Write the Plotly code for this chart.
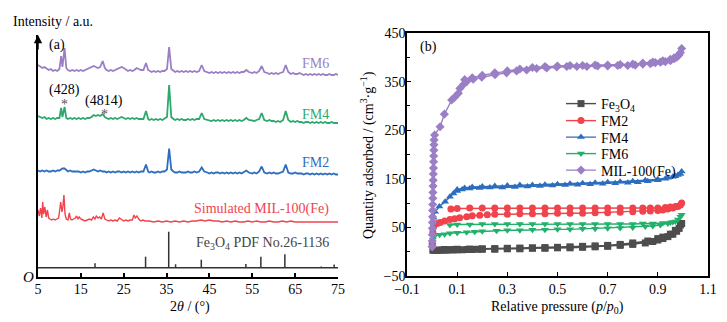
import plotly.graph_objects as go

# ---------------- (a) XRD data ----------------
two_theta = [
    5, 5.5, 6, 6.5, 7, 7.5, 8, 8.5, 9, 9.5,
    10, 10.4, 10.7, 11.2, 11.6, 12, 12.5, 13, 13.5, 14,
    14.5, 15, 15.5, 16, 16.5, 17, 17.5, 18, 18.5, 19,
    19.5, 20.1, 20.6, 21, 21.5, 22, 22.5, 23, 23.5, 24,
    24.5, 25, 25.5, 26, 26.5, 27, 27.5, 28, 28.5, 29,
    29.6, 30.2, 30.7, 31, 31.5, 32, 32.5, 33, 33.5, 34,
    34.5, 35.1, 35.6, 36.1, 36.6, 37, 37.5, 38, 38.5, 39,
    39.5, 40, 40.5, 41, 41.5, 42, 42.6, 43.2, 43.8, 44.5,
    45, 45.5, 46, 46.5, 47, 47.5, 48, 48.5, 49, 49.5,
    50, 50.5, 51, 51.5, 52, 52.5, 53, 53.6, 54.2, 55,
    55.5, 56, 56.6, 57.2, 57.8, 58.5, 59, 59.5, 60, 60.5,
    61, 61.5, 62.2, 62.8, 63.4, 64, 64.5, 65, 65.5, 66,
    66.5, 67, 67.5, 68, 68.5, 69, 69.5, 70, 70.5, 71,
    71.5, 72, 72.5, 73, 73.5, 74, 74.5, 75]

fm6_int = [
    8, 6, 5, 6, 4, 3, 4, 2, 3, 2,
    4, 17, 6, 25, 5, 3, 2, 3, 2, 3,
    2, 3, 2, 3, 4, 5, 6, 7, 6, 5,
    6, 12, 5, 3, 2, 3, 2, 3, 4, 5,
    6, 5, 3, 2, 3, 2, 3, 5, 4, 3,
    3, 10, 3, 2, 1, 2, 1, 2, 1, 2,
    2, 4, 26, 4, 2, 1, 2, 1, 2, 1,
    2, 1, 2, 1, 2, 1, 2, 8, 2, 1,
    0, 1, 0, 1, 0, 1, 0, 1, 0, 1,
    0, 1, 0, 1, 0, 1, 1, 3, 1, 0,
    1, 0, 2, 7, 1, 0, -1, 0, -1, 0,
    -1, 0, 1, 8, 1, -1, 0, -1, -1, 0,
    -1, -2, -1, -2, -1, -2, -1, -2, -1, -2,
    -1, -2, -2, -1, -2, -2, -1, -2]

fm4_int = [
    5, 4, 3, 4, 2, 3, 2, 3, 2, 3,
    3, 13, 4, 14, 3, 2, 3, 2, 3, 2,
    3, 2, 3, 2, 3, 3, 4, 6, 5, 6,
    5, 7, 4, 3, 2, 3, 2, 3, 2, 3,
    4, 3, 2, 3, 2, 3, 2, 3, 2, 2,
    2, 10, 2, 1, 2, 1, 2, 1, 2, 1,
    2, 4, 36, 4, 2, 1, 2, 1, 2, 1,
    1, 2, 1, 2, 1, 2, 2, 8, 2, 1,
    1, 0, 1, 0, 1, 0, 1, 0, 1, 0,
    1, 0, 1, 0, 1, 0, 1, 3, 1, 0,
    0, 1, 2, 8, 1, 0, 1, 0, 0, -1,
    0, -1, 1, 10, 1, -1, 0, -1, 0, -1,
    -1, -2, -1, -1, -2, -1, -2, -1, -2, -1,
    -2, -1, -2, -2, -1, -2, -2, -2]

fm2_int = [
    3, 2, 3, 2, 3, 2, 2, 3, 2, 3,
    3, 4, 5, 5, 3, 2, 3, 2, 2, 2,
    2, 1, 2, 1, 2, 2, 3, 4, 3, 2,
    3, 2, 2, 1, 2, 1, 2, 1, 2, 2,
    1, 2, 1, 2, 1, 2, 1, 2, 1, 2,
    2, 9, 2, 1, 2, 1, 1, 2, 1, 2,
    2, 4, 25, 4, 2, 1, 1, 2, 1, 1,
    1, 2, 1, 1, 2, 1, 2, 6, 2, 1,
    0, 1, 0, 1, 1, 0, 1, 0, 1, 0,
    1, 0, 1, 0, 1, 0, 1, 3, 1, 0,
    1, 0, 2, 7, 1, 0, 1, 0, 1, 0,
    0, 1, 2, 9, 1, 0, 0, 1, 0, 0,
    0, -1, 0, 0, -1, 0, -1, 0, -1, 0,
    -1, 0, -1, 0, -1, 0, -1, -1]

sim_theta = [
    5, 5.3, 5.6, 5.9, 6.1, 6.3, 6.6, 6.9, 7.2, 7.5,
    7.8, 8.2, 8.6, 9, 9.4, 9.8, 10.1, 10.3, 10.6, 10.8,
    11.05, 11.3, 11.6, 12, 12.3, 12.6, 12.9, 13.3, 13.7, 14.0,
    14.3, 14.6, 15, 15.5, 16, 16.5, 17, 17.5, 17.9, 18.3,
    18.6, 19, 19.4, 19.8, 20.2, 20.6, 21, 21.5, 22, 22.5,
    23, 23.5, 24, 24.5, 25, 25.5, 26, 26.5, 27, 27.4,
    27.7, 28.1, 28.5, 29, 29.5, 30, 31, 32, 33, 34,
    35, 36, 37, 38, 39, 40, 41, 42, 43, 44,
    45, 46, 47, 48, 49, 50, 51, 52, 53, 54,
    55, 56, 57, 58, 59, 60, 61, 62, 63, 64,
    65, 75]
sim_int = [
    12, 6, 14, 4, 20, 8, 15, 5, 12, 4,
    3, 2, 3, 2, 3, 4, 13, 20, 10, 15,
    27, 8, 3, 2, 9, 3, 2, 3, 4, 6,
    3, 5, 3, 2, 1, 2, 3, 2, 5, 3,
    6, 4, 5, 3, 9, 3, 2, 1, 2, 1,
    2, 1, 4, 2, 1, 2, 1, 2, 2, 7,
    4, 6, 3, 1, 2, 1, 1, 0, 1, 0,
    1, 0, 1, 0, 1, 0, 1, 1, 2, 1,
    2, 1, 1, 0, 1, 0, 1, 0, 0, 1,
    0, 1, 0, 0, 1, 0, 0, 1, 0, 1,
    0, 0]

pdf_theta = [18.3, 30.1, 35.5, 37.1, 43.1, 53.5, 57.0, 62.6, 71.1, 74.1]
pdf_int = [4.4, 11, 36, 3.4, 8, 3.7, 11, 13.5, 1.2, 3.2]

# vertical stacking offsets of the patterns
off_fm6, off_fm4, off_fm2, off_sim, off_pdf = 204, 156, 103.5, 55, 9.3

# ---------------- (b) N2 isotherms ----------------
fe3o4_p = [0.003, 0.01, 0.02, 0.03, 0.04, 0.05, 0.06, 0.07, 0.08, 0.09, 0.1, 0.12, 0.14, 0.16,
           0.18, 0.2, 0.25, 0.3, 0.35, 0.4, 0.45, 0.5, 0.55, 0.6, 0.65, 0.7, 0.75, 0.8, 0.85,
           0.88, 0.9, 0.92, 0.94, 0.96, 0.975, 0.985, 0.995,
           0.99, 0.97, 0.95, 0.92, 0.9, 0.86, 0.8, 0.75, 0.7, 0.65, 0.6, 0.55, 0.5, 0.45,
           0.4, 0.35, 0.3, 0.25, 0.2, 0.15, 0.1, 0.05]
fe3o4_q = [3, 3, 3, 3, 3.5, 3.5, 3.5, 4, 4, 4, 4, 4, 4.5, 4.5,
           5, 5, 5, 6, 6, 7, 7, 8, 8, 9, 10, 11, 13, 15, 18,
           21, 24, 27, 31, 36, 42, 48, 58,
           55, 44, 36, 30, 27, 22, 18, 15, 13, 12, 11, 10, 9, 8.5,
           8, 7.5, 7, 6.5, 6, 5.5, 5, 4.5]

fm2_p = [0.001, 0.003, 0.006, 0.01, 0.02, 0.032, 0.05, 0.071, 0.09, 0.11, 0.138, 0.16, 0.19,
         0.22, 0.25, 0.3, 0.35, 0.4, 0.45, 0.5, 0.55, 0.6, 0.65, 0.7, 0.75, 0.8, 0.84, 0.87,
         0.9, 0.92, 0.94, 0.96, 0.98, 0.995,
         0.99, 0.97, 0.95, 0.93, 0.9, 0.87, 0.84, 0.8, 0.75, 0.7, 0.65, 0.6, 0.55, 0.5, 0.45,
         0.4, 0.35, 0.3, 0.25, 0.2, 0.15, 0.1, 0.075]
fm2_q = [15, 40, 52, 56, 58, 60, 63, 66, 68, 70, 72, 74, 75,
         76, 77, 77, 78, 78, 78, 79, 79, 79, 80, 80, 81, 82, 83, 84,
         85, 86, 88, 90, 93, 100,
         96, 93, 92, 91, 90, 90, 90, 90, 90, 90, 90, 90, 90, 90, 90,
         90, 90, 90, 90, 90, 90, 89, 88]

fm4_p = [0.001, 0.003, 0.006, 0.012, 0.029, 0.052, 0.071, 0.085, 0.1, 0.12, 0.15, 0.19, 0.23,
         0.28, 0.33, 0.38, 0.43, 0.48, 0.53, 0.58, 0.63, 0.68, 0.73, 0.78, 0.82, 0.86, 0.9,
         0.93, 0.96, 0.98, 0.995,
         0.99, 0.97, 0.94, 0.9, 0.85, 0.8, 0.75, 0.7, 0.65, 0.6, 0.55, 0.5, 0.45, 0.4, 0.35,
         0.3, 0.25, 0.2, 0.16, 0.13, 0.1]
fm4_q = [20, 50, 70, 82, 93, 103, 113, 120, 125, 128, 130, 131, 132,
         132, 133, 134, 135, 136, 137, 138, 139, 140, 141, 142, 143, 145, 147,
         150, 154, 158, 165,
         160, 155, 152, 149, 147, 145, 144, 143, 142, 141, 140, 139, 138, 137, 137,
         136, 135, 134, 133, 131, 128]

fm6_p = [0.001, 0.003, 0.006, 0.01, 0.03, 0.05, 0.071, 0.1, 0.138, 0.17, 0.2, 0.257, 0.3, 0.35,
         0.4, 0.45, 0.5, 0.55, 0.6, 0.65, 0.7, 0.75, 0.8, 0.85, 0.88, 0.91, 0.94, 0.96, 0.98, 0.995,
         0.99, 0.97, 0.95, 0.92, 0.88, 0.84, 0.8, 0.75, 0.7, 0.65, 0.6, 0.55, 0.5, 0.45, 0.4,
         0.35, 0.3, 0.25, 0.2, 0.15, 0.1, 0.071]
fm6_q = [10, 25, 31, 33, 35, 36, 38, 39, 40, 41, 42, 43, 44, 44,
         45, 45, 46, 46, 47, 47, 48, 49, 50, 52, 53, 55, 58, 61, 66, 76,
         72, 62, 60, 59, 58, 58, 57, 57, 57, 57, 57, 57, 57, 57, 57,
         57, 57, 57, 57, 56, 56, 55]

mil_p = [0.0003, 0.0006, 0.0009, 0.0012, 0.0015, 0.0018, 0.0021, 0.0025, 0.003, 0.0035, 0.004,
         0.0045, 0.005, 0.0055, 0.006, 0.0065, 0.007, 0.0075, 0.008, 0.01, 0.032, 0.049, 0.078,
         0.09, 0.105, 0.111, 0.125, 0.138, 0.164, 0.198, 0.251, 0.297, 0.337, 0.377, 0.417,
         0.457, 0.497, 0.537, 0.577, 0.617, 0.66, 0.70, 0.74, 0.78, 0.81, 0.84, 0.87, 0.89,
         0.91, 0.93, 0.95, 0.965, 0.975, 0.985, 0.995,
         0.99, 0.98, 0.965, 0.95, 0.92, 0.88, 0.84, 0.8, 0.75, 0.7, 0.65, 0.6, 0.55, 0.5,
         0.45, 0.4, 0.35, 0.3, 0.25, 0.2, 0.16, 0.13]
mil_q = [10, 22, 35, 48, 60, 72, 85, 97, 110, 122, 135,
         147, 160, 172, 185, 197, 209, 220, 230, 240, 257, 283, 312,
         318, 326, 336, 344, 350, 355, 359, 364, 368, 372, 374, 377,
         378, 380, 381, 381, 381, 382, 382, 383, 383, 384, 386, 387, 389,
         390, 391, 393, 397, 400, 405, 418,
         410, 403, 399, 396, 393, 390, 388, 386, 385, 384, 384, 383, 383, 382,
         381, 379, 376, 372, 368, 363, 358, 354]

# ---------------- styling ----------------
FONT = "Liberation Serif"
C_PUR, C_GRN, C_BLU, C_RED, C_GRY = "#9a7fc5", "#2ea86c", "#2c6dbf", "#f0434c", "#4d4d4d"
W, H = 727, 322
PAGE_PAD = 8  # default body margin of the html page

fig = go.Figure()

# XRD patterns
for vals, off, col in [(fm6_int, off_fm6, C_PUR), (fm4_int, off_fm4, C_GRN),
                       (fm2_int, off_fm2, C_BLU)]:
    fig.add_trace(go.Scatter(x=two_theta, y=[off + v for v in vals], mode="lines",
                             line=dict(color=col, width=1.8), showlegend=False,
                             xaxis="x", yaxis="y"))
fig.add_trace(go.Scatter(x=sim_theta, y=[off_sim + v for v in sim_int], mode="lines",
                         line=dict(color=C_RED, width=1.4), showlegend=False,
                         xaxis="x", yaxis="y"))
# PDF stick pattern
sx, sy = [two_theta[0], two_theta[-1], None], [off_pdf, off_pdf, None]
for t, h in zip(pdf_theta, pdf_int):
    sx += [t, t, None]
    sy += [off_pdf, off_pdf + h, None]
fig.add_trace(go.Scatter(x=sx, y=sy, mode="lines", line=dict(color="#333333", width=1.5),
                         showlegend=False, xaxis="x", yaxis="y"))

# isotherms
iso = [("Fe<sub>3</sub>O<sub>4</sub>", fe3o4_p, fe3o4_q, C_GRY, "square", "legend"),
       ("FM2", fm2_p, fm2_q, C_RED, "circle", "legend2"),
       ("FM4", fm4_p, fm4_q, C_BLU, "triangle-up", "legend3"),
       ("FM6", fm6_p, fm6_q, "#22b06a", "triangle-down", "legend4"),
       ("MIL-100(Fe)", mil_p, mil_q, "#9b7fc6", "diamond", "legend5")]
for name, p, q, col, sym, lg in iso:
    fig.add_trace(go.Scatter(x=p, y=q, mode="lines+markers", name=name,
                             line=dict(color=col, width=1.4),
                             marker=dict(symbol=sym, size=7, color=col),
                             xaxis="x2", yaxis="y2", legend=lg))

axis_font = dict(family=FONT, size=14, color="black")

def px_x(v):
    return (v - PAGE_PAD) / W

def px_y(v):
    return 1 - (v - PAGE_PAD) / H

legend_rows = [104, 121, 137.5, 154, 170.5]
legend_common = dict(x=px_x(561), xanchor="left", yanchor="middle", bgcolor="rgba(0,0,0,0)",
                     font=dict(family=FONT, size=14, color="black"), itemwidth=30,
                     borderwidth=0)

layout_legends = {}
for i, yy in enumerate(legend_rows):
    key = "legend" if i == 0 else f"legend{i+1}"
    layout_legends[key] = dict(legend_common, y=px_y(yy))

fig.update_layout(
    width=W, height=H, margin=dict(l=0, r=0, t=0, b=0, autoexpand=False),
    paper_bgcolor="white", plot_bgcolor="white",
    font=dict(family=FONT, size=14, color="black"),
    xaxis=dict(domain=[px_x(38), px_x(338)], range=[5, 75], tickvals=[5, 15, 25, 35, 45, 55, 65, 75],
               showline=True, linewidth=2, linecolor="black", ticks="inside", ticklen=4,
               tickwidth=1.5, tickcolor="black", showgrid=False, zeroline=False,
               tickfont=axis_font, anchor="y", automargin=False, ticklabelstandoff=-2),
    yaxis=dict(domain=[px_y(277), px_y(35)], range=[0, 242], showline=True, linewidth=1.5,
               linecolor="black", showticklabels=False, ticks="", showgrid=False,
               zeroline=False, anchor="x", automargin=False),
    xaxis2=dict(domain=[px_x(407), px_x(708)], range=[-0.1, 1.1],
                tickvals=[-0.1, 0.1, 0.3, 0.5, 0.7, 0.9, 1.1],
                ticktext=["\u22120.1", "0.1", "0.3", "0.5", "0.7", "0.9", "1.1"],
                showline=True, mirror=True, linewidth=1.5, linecolor="black", ticks="inside",
                ticklen=4, tickwidth=1.2, tickcolor="black", showgrid=False, zeroline=False,
                tickfont=axis_font, anchor="y2", automargin=False, ticklabelstandoff=-1),
    yaxis2=dict(domain=[px_y(276), px_y(33)], range=[-50, 450], tick0=-50, dtick=100,
                showline=True, mirror=True, linewidth=1.5, linecolor="black", ticks="inside",
                ticklen=4, tickwidth=1.2, tickcolor="black", showgrid=False, zeroline=False,
                minor=dict(ticks="inside", dtick=50, tick0=-50, ticklen=3, tickcolor="black"),
                tickfont=axis_font, anchor="x2", automargin=False, ticklabelstandoff=-3),
    showlegend=True,
    **layout_legends,
)

ann = []
def txt(x, y, t, xref="paper", yref="paper", size=14, color="black", xanchor="center",
        yanchor="middle", angle=0):
    ann.append(dict(x=x, y=y, xref=xref, yref=yref, text=t, showarrow=False,
                    font=dict(family=FONT, size=size, color=color), xanchor=xanchor,
                    yanchor=yanchor, textangle=angle))

# panel (a) texts
txt(px_x(11), px_y(22), "Intensity / a.u.", xanchor="left")
txt(px_x(47), px_y(45), "(a)", xanchor="left")
txt(px_x(28), px_y(277), "<i>O</i>", size=15)
txt(px_x(190), px_y(307), "2<i>θ</i> / (°)")
txt(73.3, off_fm6 + 10, "FM6", xref="x", yref="y", color=C_PUR, xanchor="right")
txt(73.3, off_fm4 + 7, "FM4", xref="x", yref="y", color=C_GRN, xanchor="right")
txt(73.3, off_fm2 + 11, "FM2", xref="x", yref="y", color=C_BLU, xanchor="right")
txt(73.3, off_sim + 13, "Simulated MIL-100(Fe)", xref="x", yref="y", color=C_RED, xanchor="right")
txt(73.3, off_pdf + 24, "Fe<sub>3</sub>O<sub>4</sub> PDF No.26-1136", xref="x", yref="y",
    color="#444444", xanchor="right")
txt(11.2, off_fm4 + 31, "(428)", xref="x", yref="y")
txt(20.4, off_fm4 + 20, "(4814)", xref="x", yref="y")
txt(11.2, off_fm4 + 17, "*", xref="x", yref="y", color="#555555", yanchor="middle")
txt(20.4, off_fm4 + 7, "*", xref="x", yref="y", color="#555555", yanchor="middle")

# panel (b) texts
txt(px_x(418), px_y(47), "(b)", xanchor="left")
txt(px_x(557), px_y(307), "Relative pressure (<i>p</i>/<i>p</i><sub>0</sub>)")
txt(px_x(367), px_y(155), "Quantity adsorbed / (cm<sup>3</sup>·g<sup>−1</sup>)", angle=-90)

# arrow head on the intensity axis
ann.append(dict(x=5, y=242, xref="x", yref="y", ax=0, ay=16, text="", showarrow=True,
                arrowhead=2, arrowsize=1.1, arrowwidth=1.5, arrowcolor="black"))

fig.update_layout(annotations=ann)
fig.write_html("out.html")
